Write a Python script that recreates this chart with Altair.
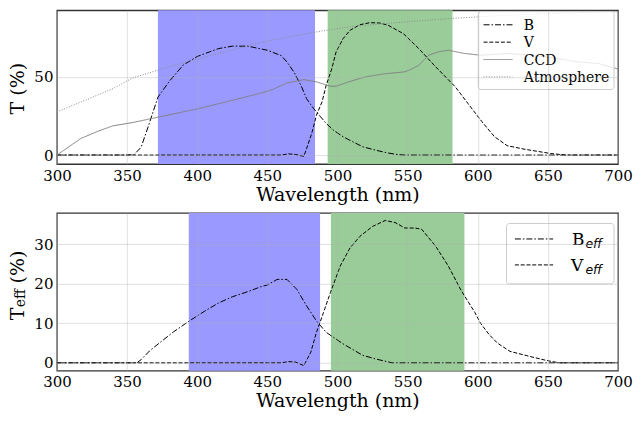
import altair as alt
import pandas as pd

FONT = "DejaVu Serif"

# ---------------- data: top panel ----------------
b_wl = [300, 350, 355, 360, 365, 372, 380, 390, 400, 415, 425, 436, 450, 460, 464, 469, 474, 478, 483, 488, 492, 497, 504, 511, 518, 527, 535, 543, 548, 700]
b_val = [0, 0, 0.3, 5, 18, 37, 47, 57.5, 63, 68, 69.6, 69.6, 67, 63.5, 59.5, 53, 44.5, 36, 29.7, 24.4, 20.2, 16, 11.7, 8.5, 5.3, 3.2, 1.5, 0.3, 0, 0]

v_wl = [300, 460, 465, 470, 476, 478, 482, 485, 489, 492, 496, 499, 504, 509, 516, 523, 530, 536, 547, 558, 570, 584, 593, 603, 612, 621, 633, 652, 663, 700]
v_val = [0, 0, 0.8, 0.4, -0.8, 4.2, 14.9, 25.5, 34, 44.7, 55.3, 65.9, 74.4, 79.8, 83.3, 84.6, 84.4, 83, 77.6, 68, 56.4, 43.6, 33, 21.3, 11.7, 6, 3.8, 1, 0, 0]

ccd_wl = [300, 317, 330, 340, 354, 373, 401, 425, 447, 454, 464, 476, 485, 495, 499, 508, 520, 534, 548, 553, 558, 565, 572, 579, 590, 602, 621, 635, 649, 672, 686, 700]
ccd_val = [0, 10.6, 15.5, 18.7, 20.8, 24.4, 29.7, 35, 40, 42, 46.1, 48.2, 46.8, 44, 44, 46.8, 50, 52, 53.2, 55, 57.4, 63.8, 66, 67, 65, 63.8, 64.9, 64, 62.7, 59.5, 58.5, 55]

atm_wl = [300, 320, 340, 354, 380, 401, 420, 447, 465, 485, 508, 527, 547, 579, 600, 620, 640, 660, 680, 700]
atm_val = [27.6, 35, 42.5, 49.3, 56.5, 61.6, 66, 72.3, 75.5, 78.7, 81.9, 83.5, 85, 87.2, 88.3, 89.3, 90, 90.7, 91.2, 91.6]

# ---------------- data: bottom panel ----------------
beff_wl = [300, 357, 360, 366, 373, 383, 394, 405, 415, 425, 436, 445, 450, 457, 464, 471, 478, 485, 492, 504, 518, 527, 539, 700]
beff_val = [0, 0, 0.8, 3, 5, 7.8, 10.5, 13, 15.1, 16.7, 18, 19.2, 19.7, 21.1, 21.1, 18.6, 14.4, 10.6, 7.7, 4.8, 1.9, 1, 0, 0]

veff_wl = [300, 460, 465, 470, 476, 481, 485, 490, 495, 502, 509, 516, 525, 534, 541, 548, 555, 560, 570, 579, 588, 598, 602, 608, 614, 623, 635, 649, 658, 700]
veff_val = [0, 0, 0.3, 0.2, -0.7, 2.7, 7.7, 12.7, 17.8, 24.5, 29.1, 32, 34.5, 36, 35.5, 34.1, 34.1, 33.8, 29.5, 24.5, 18.4, 12.7, 10, 7.2, 5, 2.9, 1.8, 0.6, 0, 0]

# filter bands (nm)
top_b_band = [372, 484]
top_v_band = [493, 582]
bot_b_band = [394, 487.6]
bot_v_band = [495.3, 590.5]

series_top = ["B", "V", "CCD", "Atmosphere"]
series_bot = ["B", "V"]
x_ticks = [300, 350, 400, 450, 500, 550, 600, 650, 700]
y_ticks_top = [0, 50]
y_ticks_bot = [0, 10, 20, 30]

BLUE = "#9999ff"
GREEN = "#99cc99"
DASHES = {"B": [6, 2, 1.5, 2], "V": [4, 1.8], "CCD": [1, 0], "Atmosphere": [1, 1.6]}
COLORS = {"B": "black", "V": "black", "CCD": "#808080", "Atmosphere": "#8c8c8c"}

W = 562
H_TOP = 154
H_BOT = 158


def long(pairs):
    rows = []
    for name, wl, val in pairs:
        for w, v in zip(wl, val):
            rows.append({"wl": w, "val": v, "series": name})
    return pd.DataFrame(rows)


top_df = long([("B", b_wl, b_val), ("V", v_wl, v_val), ("CCD", ccd_wl, ccd_val), ("Atmosphere", atm_wl, atm_val)])
bot_df = long([("B", beff_wl, beff_val), ("V", veff_wl, veff_val)])

xaxis = alt.Axis(values=x_ticks, title="Wavelength (nm)", grid=True, ticks=False, domain=False,
                 labelPadding=4, titlePadding=2, zindex=1, labelFlush=False, labelOverlap=False)
X_SCALE = alt.Scale(domain=[300, 700], nice=False, zero=False)


def yaxis(vals):
    return alt.Axis(values=vals, title=None, grid=True, ticks=False, domain=False,
                    labelPadding=4, zindex=1, labelFlush=False, labelOverlap=False)


def band_layer(band, color):
    d = pd.DataFrame({"start": [band[0]], "end": [band[1]]})
    return alt.Chart(d).mark_rect(color=color, opacity=1).encode(
        x=alt.X("start:Q", scale=X_SCALE, axis=xaxis), x2="end:Q")


def one(col, val):
    return pd.DataFrame({col: [val]})


def vtext(txt, x, y, size, align="left"):
    return alt.Chart(one("t", txt)).mark_text(
        angle=270, align=align, baseline="alphabetic", font=FONT, fontSize=size, color="black"
    ).encode(text="t:N", x=alt.value(x), y=alt.value(y))


def legend_box(x0, x1, y0, y1):
    return alt.Chart(one("a", 0)).mark_rect(
        fill="white", fillOpacity=0.8, stroke="#cccccc", strokeWidth=1, cornerRadius=3
    ).encode(x=alt.value(x0), x2=alt.value(x1), y=alt.value(y0), y2=alt.value(y1))


def legend_line(name, x0, x1, y):
    return alt.Chart(one("a", 0)).mark_rule(
        color=COLORS[name], strokeWidth=1, strokeDash=DASHES[name]
    ).encode(x=alt.value(x0), x2=alt.value(x1), y=alt.value(y))


def legend_text(txt, x, y, size, font=FONT, style="normal"):
    return alt.Chart(one("t", txt)).mark_text(
        align="left", baseline="alphabetic", font=font, fontStyle=style, fontSize=size, color="black"
    ).encode(text="t:N", x=alt.value(x), y=alt.value(y))


# ---------------- top chart ----------------
top_lines = alt.Chart(top_df).mark_line(strokeWidth=1).encode(
    x=alt.X("wl:Q", scale=X_SCALE, axis=xaxis),
    y=alt.Y("val:Q", scale=alt.Scale(domain=[-5.74, 92.5], nice=False, zero=False), axis=yaxis(y_ticks_top)),
    color=alt.Color("series:N", scale=alt.Scale(domain=series_top, range=[COLORS[s] for s in series_top]),
                    legend=None),
    strokeDash=alt.StrokeDash("series:N", scale=alt.Scale(domain=series_top, range=[DASHES[s] for s in series_top]),
                              legend=None),
)

top_leg = [legend_box(422, 558, 1.3, 79.3)]
for i, s in enumerate(series_top):
    yy = 14.5 + 17.4 * i
    top_leg.append(legend_line(s, 427.3, 456.3, yy))
    top_leg.append(legend_text(s, 467.7, yy + 5, 14))

top = alt.layer(band_layer(top_b_band, BLUE), band_layer(top_v_band, GREEN), top_lines,
                vtext("T (%)", -33, 78.5, 19, align="center"), *top_leg).properties(width=W, height=H_TOP)

# ---------------- bottom chart ----------------
bot_lines = alt.Chart(bot_df).mark_line(strokeWidth=1, color="black").encode(
    x=alt.X("wl:Q", scale=X_SCALE, axis=xaxis),
    y=alt.Y("val:Q", scale=alt.Scale(domain=[-2.0, 37.9], nice=False, zero=False), axis=yaxis(y_ticks_bot)),
    strokeDash=alt.StrokeDash("series:N", scale=alt.Scale(domain=series_bot, range=[DASHES[s] for s in series_bot]),
                              legend=None),
)

bot_leg = [legend_box(450.3, 558, 10.5, 71)]
for i, s in enumerate(series_bot):
    yy = 26 + 26 * i
    bot_leg.append(legend_line(s, 458.7, 497, yy))
    bot_leg.append(legend_text(s, 516 if s == "B" else 515, yy + 6, 17))
    bot_leg.append(legend_text("eff", 529.3, yy + 9, 12.5, font="DejaVu Sans", style="italic"))

bot = alt.layer(band_layer(bot_b_band, BLUE), band_layer(bot_v_band, GREEN), bot_lines,
                vtext("T", -33, 107.5, 19), vtext("eff", -32, 94.5, 14), vtext("(%)", -33, 70.5, 19),
                *bot_leg).properties(width=W, height=H_BOT)

chart = alt.vconcat(top, bot, spacing=7).properties(
    padding={"left": 0, "top": 0, "right": 0, "bottom": 0}
).configure(font=FONT).configure_view(stroke="#333333", strokeWidth=1.3).configure_axis(
    labelFont=FONT, labelFontSize=15, labelColor="black", titleFont=FONT, titleFontSize=19,
    titleFontWeight="normal", titleColor="black", gridColor="#b0b0b0", gridOpacity=0.4, gridWidth=1
)

chart.save("out.html", embed_options={"renderer": "svg", "actions": False})
